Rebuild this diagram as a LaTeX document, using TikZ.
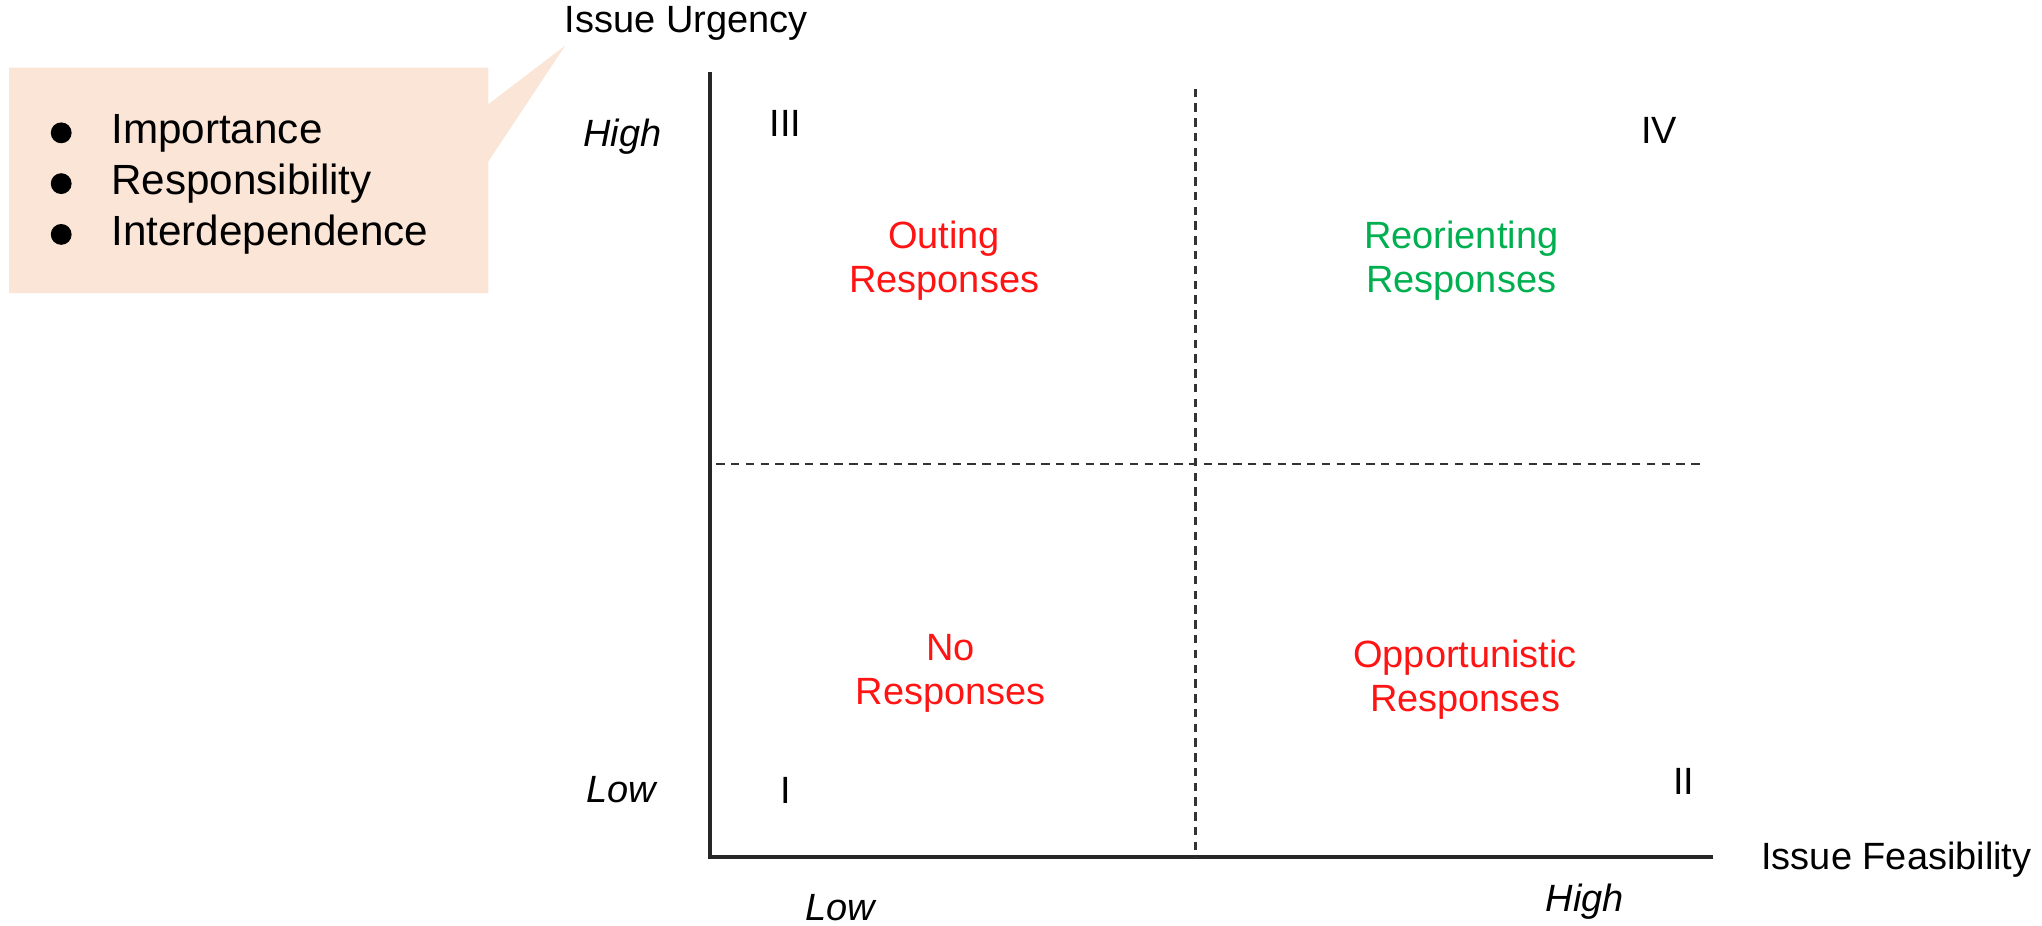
\documentclass[tikz,border=0pt]{standalone}
\usepackage{fontspec}
\setmainfont{Liberation Sans}
\usepackage{tikz}

\definecolor{peach}{RGB}{251,229,214}
\definecolor{respred}{RGB}{255,20,20}
\definecolor{respgreen}{RGB}{0,176,80}

\begin{document}
\begin{tikzpicture}[x=0.013023cm,y=-0.013023cm,
	axis/.style={line width=1.1pt,black!85},
	divider/.style={line width=0.6pt,dash pattern=on 2.4pt off 1.8pt,black!80},
	txt/.style={inner sep=0pt,font=\fontsize{10.8}{12.6}\selectfont},
	resp/.style={txt,align=center},
	level/.style={txt,font=\fontsize{10.8}{12.6}\selectfont\itshape},
	item/.style={inner sep=0pt,anchor=west,text height=8.6pt,text depth=2.3pt,font=\fontsize{12}{14.4}\selectfont}]
	
	\useasboundingbox (0,0) rectangle (1568,711);
	
	% Callout box
	\fill[peach] (7,52) -- (375,52) -- (375,80) -- (434,35) -- (375,124) -- (375,225) -- (7,225) -- cycle;
	\foreach \t [count=\i] in {Importance,Responsibility,Interdependence}{
		\fill (47,63+39*\i) circle (8);
		\node[item] (item\i) at (85,63+39*\i) {\t};
	}
	
	% Axes
	\coordinate (origin) at (545,658);
	\coordinate (ytop) at (545,55);
	\coordinate (xend) at (1315,658);
	\draw[axis] (ytop) -- (origin) -- (xend);
	\node[txt] (urgency) at (527,18) {Issue Urgency};
	\node[txt,anchor=west] (feasibility) at (1352,660) {Issue Feasibility};
	
	% Quadrant dividers
	\coordinate (vtop) at (918,68);
	\coordinate (vbot) at (918,658);
	\coordinate (hleft) at (550,356);
	\coordinate (hright) at (1305,356);
	\draw[divider] (vtop) -- (vbot);
	\draw[divider] (hleft) -- (hright);
	
	% Levels
	\node[level] (yhigh) at (478,105) {High};
	\node[level] (ylow) at (477,606) {Low};
	\node[level] (xlow) at (645,697) {Low};
	\node[level] (xhigh) at (1217,692) {High};
	
	% Quadrant numbers
	\node[txt] (q3) at (603,95) {III};
	\node[txt] (q4) at (1274,100) {IV};
	\node[txt] (q1) at (603,607) {I};
	\node[txt] (q2) at (1293,600) {II};
	
	% Responses
	\node[resp,text=respred] (outing) at (725,200) {Outing\\Responses};
	\node[resp,text=respgreen] (reorient) at (1122,200) {Reorienting\\Responses};
	\node[resp,text=respred] (noresp) at (730,517) {No\\Responses};
	\node[resp,text=respred] (opport) at (1125,522) {Opportunistic\\Responses};
\end{tikzpicture}
\end{document}
